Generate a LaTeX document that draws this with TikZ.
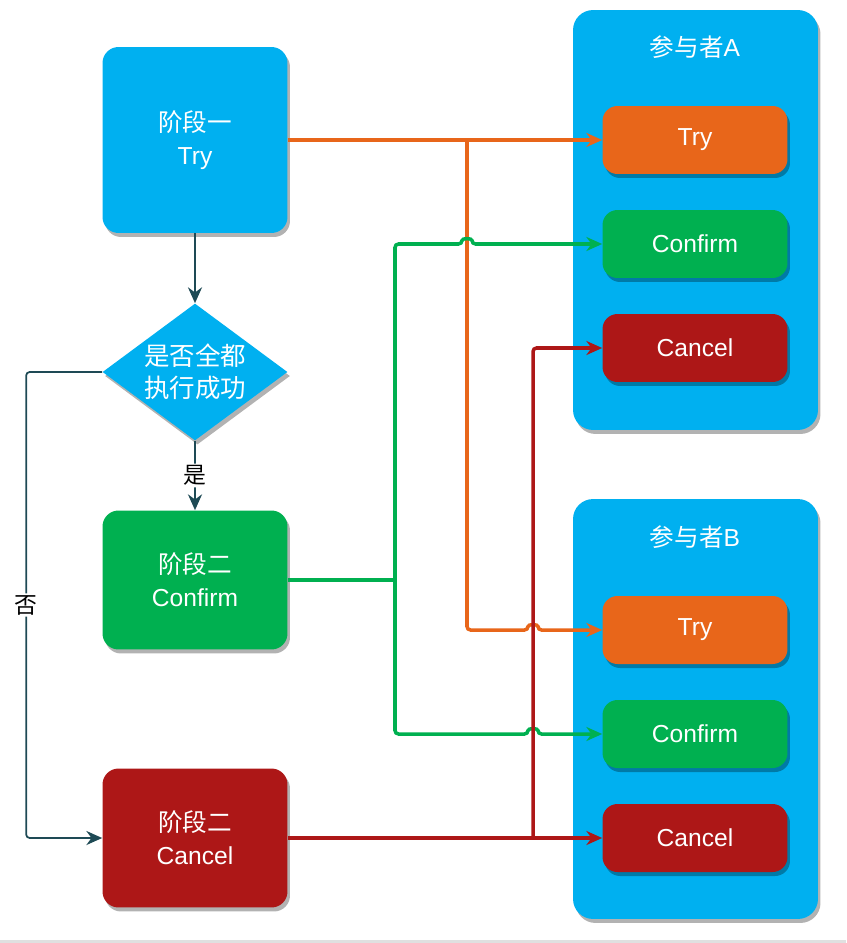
\documentclass[tikz,border=0pt]{standalone}
\usepackage{fontspec}
\setmainfont{Liberation Sans}
\newfontfamily\cjk{Noto Sans CJK SC}
\usetikzlibrary{shapes.geometric, arrows.meta, positioning, calc, shadows}
\definecolor{tblue}{HTML}{00B0F0}
\definecolor{torange}{HTML}{E8661A}
\definecolor{tgreen}{HTML}{00B050}
\definecolor{tred}{HTML}{AD1717}
\definecolor{tdark}{HTML}{1E4A55}
\tikzset{
  shade/.style={drop shadow={shadow xshift=0.5mm, shadow yshift=-0.8mm, opacity=0.3, fill=black}},
  stage/.style={rounded corners=0.32cm, minimum width=3.7cm, inner sep=0pt, align=center,
    text=white, font=\fontsize{14}{19}\selectfont, shade},
  party/.style={fill=tblue, rounded corners=0.4cm, minimum width=4.9cm, minimum height=8.4cm, shade},
  act/.style={rounded corners=0.3cm, minimum width=3.7cm, minimum height=1.36cm, inner sep=0pt,
    text=white, font=\fontsize{14}{17}\selectfont, shade},
  title/.style={text=white, font=\fontsize{14}{17}\selectfont},
  tag/.style={fill=white, inner sep=1pt, text=black, font=\cjk\fontsize{13}{15}\selectfont},
  >={Stealth[length=9pt,width=8pt]},
  oline/.style={draw=torange, line width=2pt, rounded corners=2pt},
  gline/.style={draw=tgreen, line width=2pt, rounded corners=2pt},
  rline/.style={draw=tred, line width=2pt, rounded corners=2pt},
  dline/.style={draw=tdark, line width=1pt, rounded corners=2pt},
}

\begin{document}
\begin{tikzpicture}[x=0.02cm, y=-0.02cm]
  \useasboundingbox (0,0) rectangle (846,943);
  \fill[black!12] (0,940) rectangle (846,943);

  % left column
  \node[stage, fill=tblue, minimum height=3.72cm] (s1) at (195,140) {{\cjk 阶段一}\\Try};
  \node[diamond, fill=tblue, aspect=1.35, inner sep=0pt, minimum width=3.7cm, minimum height=2.74cm,
    align=center, text=white, font=\cjk\fontsize{14.5}{18}\selectfont, shade] (dec) at (195,372) {是否全都\\执行成功};
  \node[stage, fill=tgreen, minimum height=2.78cm] (s2) at (195,580) {{\cjk 阶段二}\\Confirm};
  \node[stage, fill=tred, minimum height=2.78cm] (s3) at (195,838) {{\cjk 阶段二}\\Cancel};

  % participants
  \node[party] (pA) at (695.5,220) {};
  \node[title] (tA) at (695,47) {{\cjk 参与者}A};
  \node[act, fill=torange] (aTry) at (695,140) {Try};
  \node[act, fill=tgreen] (aConf) at (695,244) {Confirm};
  \node[act, fill=tred] (aCan) at (695,348) {Cancel};

  \node[party] (pB) at (695.5,709) {};
  \node[title] (tB) at (695,537) {{\cjk 参与者}B};
  \node[act, fill=torange] (bTry) at (695,630) {Try};
  \node[act, fill=tgreen] (bConf) at (695,734) {Confirm};
  \node[act, fill=tred] (bCan) at (695,838) {Cancel};

  % junctions
  \coordinate (jo) at (467,140);
  \coordinate (jg) at (395,580);
  \coordinate (jr) at (533,838);

  % flow
  \draw[dline,->] (s1) -- (dec);
  \draw[dline,->] (dec) -- node[tag] {是} (s2);
  \draw[dline,->] (dec.west) -- ++(-76,0) |- node[tag, pos=0.25] {否} (s3.west);

  % try
  \draw[oline,->] (s1.east) -- (aTry.west);
  \draw[oline,->] (jo) -- (467,630) -- (528,630) .. controls (528,624) and (538,624) .. (538,630) -- (bTry.west);
  % confirm
  \draw[gline] (s2.east) -- (jg);
  \draw[gline,->] (jg) -- (395,244) -- (462,244) .. controls (462,238) and (472,238) .. (472,244) -- (aConf.west);
  \draw[gline,->] (jg) -- (395,734) -- (528,734) .. controls (528,728) and (538,728) .. (538,734) -- (bConf.west);
  % cancel
  \draw[rline,->] (s3.east) -- (bCan.west);
  \draw[rline,->] (jr) |- (aCan.west);
\end{tikzpicture}
\end{document}
